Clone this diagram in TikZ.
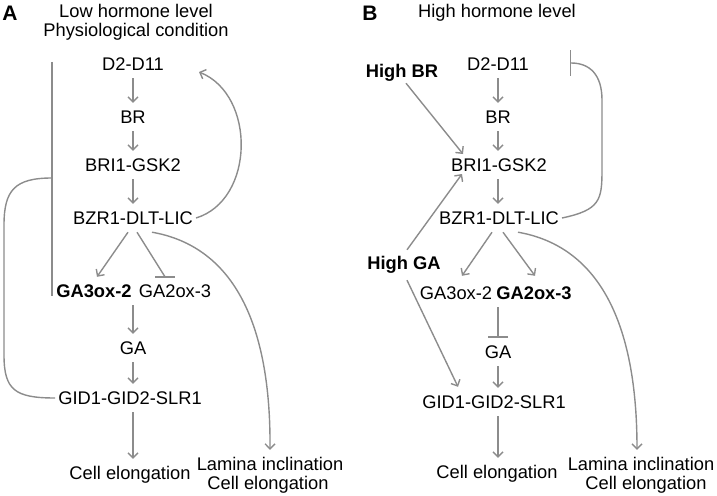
\documentclass[tikz,border=0pt]{standalone}
\usepackage{fontspec}
\setmainfont{Liberation Sans}
\usetikzlibrary{arrows.meta,calc}
\definecolor{lg}{HTML}{8C8C8C}
\begin{document}
\begin{tikzpicture}[x=1pt,y=-1pt,
 lbl/.style={font=\fontsize{18.3}{18.3}\selectfont, text height=13pt, text depth=0pt, inner ysep=7.5pt, inner xsep=3pt},
 bl/.style={lbl, font=\fontsize{18.3}{18.3}\selectfont\bfseries},
 panel/.style={font=\fontsize{21}{21}\selectfont\bfseries, inner sep=0pt},
 con/.style={draw=lg, line width=1.4pt, -{Straight Barb[length=5pt,width=10pt]}},
 inh/.style={draw=lg, line width=1.4pt, -{Bar[width=20pt]}},
 inhwide/.style={draw=lg, line width=1.4pt, -{Bar[width=25pt]}},
 plain/.style={draw=lg, line width=1.4pt}]
\useasboundingbox (0,0) rectangle (717,495);

% ---------- Panel A ----------
\node[panel] (lblA) at (10,13) {A};
\node[lbl] (hdA1) at (136,11) {Low hormone level};
\node[lbl] (hdA2) at (136,30) {Physiological condition};
\node[lbl] (d2A) at (133,64) {D2-D11};
\node[lbl] (brA) at (133,117) {BR};
\node[lbl] (briA) at (133,165) {BRI1-GSK2};
\node[lbl] (bzrA) at (133,218) {BZR1-DLT-LIC};
\node[bl] (ga3A) at (94,291) {GA3ox-2};
\node[lbl] (ga2A) at (175,291) {GA2ox-3};
\node[lbl] (gaA) at (133,348) {GA};
\node[lbl] (gidA) at (130,398) {GID1-GID2-SLR1};
\node[lbl] (cellA) at (130,473) {Cell elongation};
\node[lbl] (lamA) at (270,464) {Lamina inclination};
\node[lbl] (lamA2) at (268,483) {Cell elongation};

\draw[con] (d2A.south) -- (brA.north);
\draw[con] (brA.south) -- (briA.north);
\draw[con] (briA.south) -- (bzrA.north);
\draw[con] ($(bzrA.south)+(-5,0)$) -- ($(ga3A.north)+(3,0)$);
\draw[plain] ($(bzrA.south)+(4,0)$) -- ($(ga2A.north)+(-10,0)$);
\draw[plain] ($(ga2A.north)+(-20,0)$) -- (ga2A.north);
\draw[con] (ga3A.south -| gaA) -- (gaA.north);
\draw[con] (gaA.south) -- (gaA.south |- gidA.north);
\draw[con] (gaA.south |- gidA.south) -- (gaA.south |- cellA.north);
\coordinate (fbA) at (199,72);
\draw[con] (bzrA.east) .. controls (255,200) and (256,95) .. (fbA);
\draw[con] ($(bzrA.south)+(19,0)$) .. controls (225,245) and (271,310) .. (lamA.north);
\coordinate (barAtop) at (52,62);
\coordinate (barAbot) at (52,296);
\coordinate (barAj) at (52,178);
\draw[plain] (barAtop) -- (barAbot);
\draw[plain] (gidA.west) .. controls (15,398) and (4,390) .. (4,355) -- (4,225) .. controls (4,190) and (15,178) .. (barAj);

% ---------- Panel B ----------
\node[panel] (lblB) at (370,13) {B};
\node[lbl] (hdB) at (497,11) {High hormone level};
\node[lbl] (d2B) at (498,64) {D2-D11};
\node[lbl] (brB) at (498,117) {BR};
\node[lbl] (briB) at (499,165) {BRI1-GSK2};
\node[lbl] (bzrB) at (499,218) {BZR1-DLT-LIC};
\node[bl] (highBR) at (402,71) {High BR};
\node[bl] (highGA) at (404,263) {High GA};
\node[lbl] (ga3B) at (456,293) {GA3ox-2};
\node[bl] (ga2B) at (534,293) {GA2ox-3};
\node[lbl] (gaB) at (498,352) {GA};
\node[lbl] (gidB) at (494,402) {GID1-GID2-SLR1};
\node[lbl] (cellB) at (497,472) {Cell elongation};
\node[lbl] (lamB) at (641,464) {Lamina inclination};
\node[lbl] (lamB2) at (646,483) {Cell elongation};

\draw[con] (d2B.south -| brB) -- (brB.north);
\draw[con] (brB.south) -- (brB.south |- briB.north);
\draw[con] (brB.south |- briB.south) -- (brB.south |- bzrB.north);
\draw[con] ($(highBR.south)+(4,-2)$) -- ($(briB)+(-36,-11)$);
\draw[con] ($(highGA.north)+(3,1)$) -- ($(briB)+(-37,9)$);
\draw[con] ($(highGA.south)+(3,3)$) -- ($(gidB.north)+(-36,-1)$);
\draw[con] ($(bzrB.south)+(-7,0)$) -- ($(ga3B.north)+(6,-3)$);
\draw[con] ($(bzrB.south)+(4,0)$) -- ($(ga2B.north)+(1,-3)$);
\draw[inh] (ga2B.south -| gaB) -- (gaB.north);
\draw[con] (gaB.south) -- (gaB.south |- gidB.north);
\draw[con] (gaB.south |- gidB.south) -- (gaB.south |- cellB.north);
\coordinate (fbB) at (570,63);
\draw[inhwide] (bzrB.east) .. controls (600,210) and (602,200) .. (602,170) -- (602,100) .. controls (602,75) and (590,63) .. (fbB);
\draw[con] ($(bzrB.south)+(19,0)$) .. controls (591,245) and (637,310) .. (lamB.north -| 637,0);
\end{tikzpicture}
\end{document}
